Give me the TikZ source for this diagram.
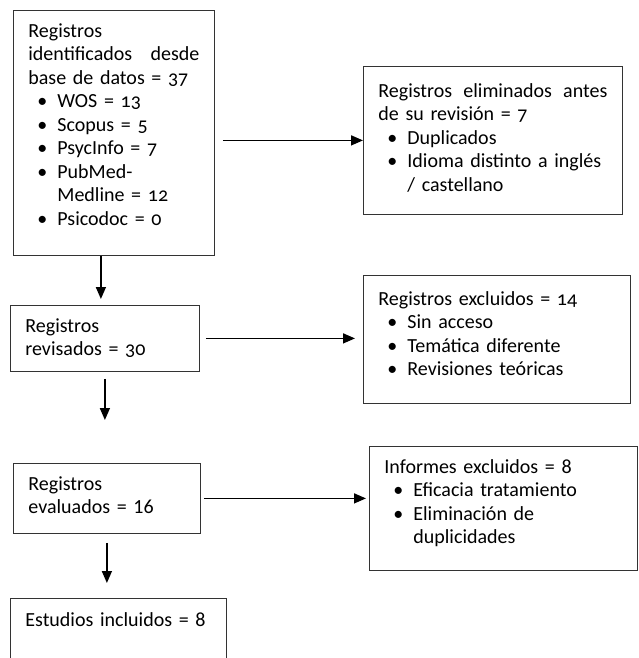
\documentclass[tikz,border=0pt]{standalone}
\usepackage{fontspec}
\setmainfont{Carlito}[Numbers=OldStyle]
\usetikzlibrary{positioning, arrows.meta}

\newcommand{\bitem}[1]{\\\hspace*{9pt}\makebox[20pt][l]{\textbullet}#1}
\newcommand{\bcont}[1]{\\\hspace*{29pt}#1}

\begin{document}
\begin{tikzpicture}
    [
        x=1pt, y=1pt,
        flow_box/.style={rectangle, draw=black!80, line width=0.8pt, anchor=north west, inner xsep=15pt, inner ysep=0pt, align=left, font=\fontsize{20}{23.5}\selectfont},
        lining_box/.style={flow_box, font={\addfontfeatures{Numbers=Lining}\fontsize{20}{23.5}\selectfont}},
        flow_arrow/.style={-{Triangle[length=12pt, width=10pt]}, line width=1.5pt},
    ]
        \useasboundingbox (0,0) rectangle (639,-658);
        \clip (0,0) rectangle (639,-658);
        \node[flow_box, text width=171pt, text height=27pt, text depth=218pt] (identificados) at (13,-10) {Registros\\identificados\hfill desde\\base de datos = 37\bitem{WOS = 13}\bitem{Scopus = 5}\bitem{PsycInfo = 7}\bitem{PubMed-}\bcont{Medline = 12}\bitem{Psicodoc = 0}} ;
        \node[flow_box, text width=229pt, text height=31pt, text depth=117pt] (eliminados) at (363,-66) {Registros\hfill eliminados\hfill antes\\de su revisión = 7\bitem{Duplicados}\bitem{Idioma distinto a inglés}\bcont{/ castellano}} ;
        \node[flow_box, text width=159pt, text height=27pt, text depth=39pt] (revisados) at (10,-305) {Registros\\revisados = 30} ;
        \node[flow_box, text width=237pt, text height=30pt, text depth=98pt] (excluidos) at (363,-275) {Registros excluidos = 14\bitem{Sin acceso}\bitem{Temática diferente}\bitem{Revisiones teóricas}} ;
        \node[lining_box, text width=157pt, text height=27pt, text depth=43pt] (evaluados) at (13,-463) {Registros\\evaluados = 16} ;
        \node[lining_box, text width=238pt, text height=27pt, text depth=97pt] (informes) at (369,-446) {Informes excluidos = 8\bitem{Eficacia tratamiento}\bitem{Eliminación de}\bcont{duplicidades}} ;
        \node[lining_box, text width=186pt, text height=28pt, text depth=62pt] (incluidos) at (10,-598) {Estudios incluidos = 8} ;
        \draw[flow_arrow] ([xshift=8pt]identificados.east |- eliminados.west) -- (eliminados.west) ;
        \draw[flow_arrow] ([xshift=-4pt]revisados.north |- identificados.south) -- ([xshift=-4pt, yshift=6pt]revisados.north) ;
        \draw[flow_arrow] ([xshift=6pt]revisados.east) -- ([xshift=-8pt]excluidos.west |- revisados.east) ;
        \draw[flow_arrow] ([yshift=-7pt]revisados.south) -- ([yshift=43pt]revisados.south |- evaluados.north) ;
        \draw[flow_arrow] ([xshift=3pt]evaluados.east) -- ([xshift=-3pt]evaluados.east -| informes.west) ;
        \draw[flow_arrow] ([yshift=-9pt]evaluados.south) -- ([yshift=15pt]evaluados.south |- incluidos.north) ;
    \end{tikzpicture}
\end{document}
